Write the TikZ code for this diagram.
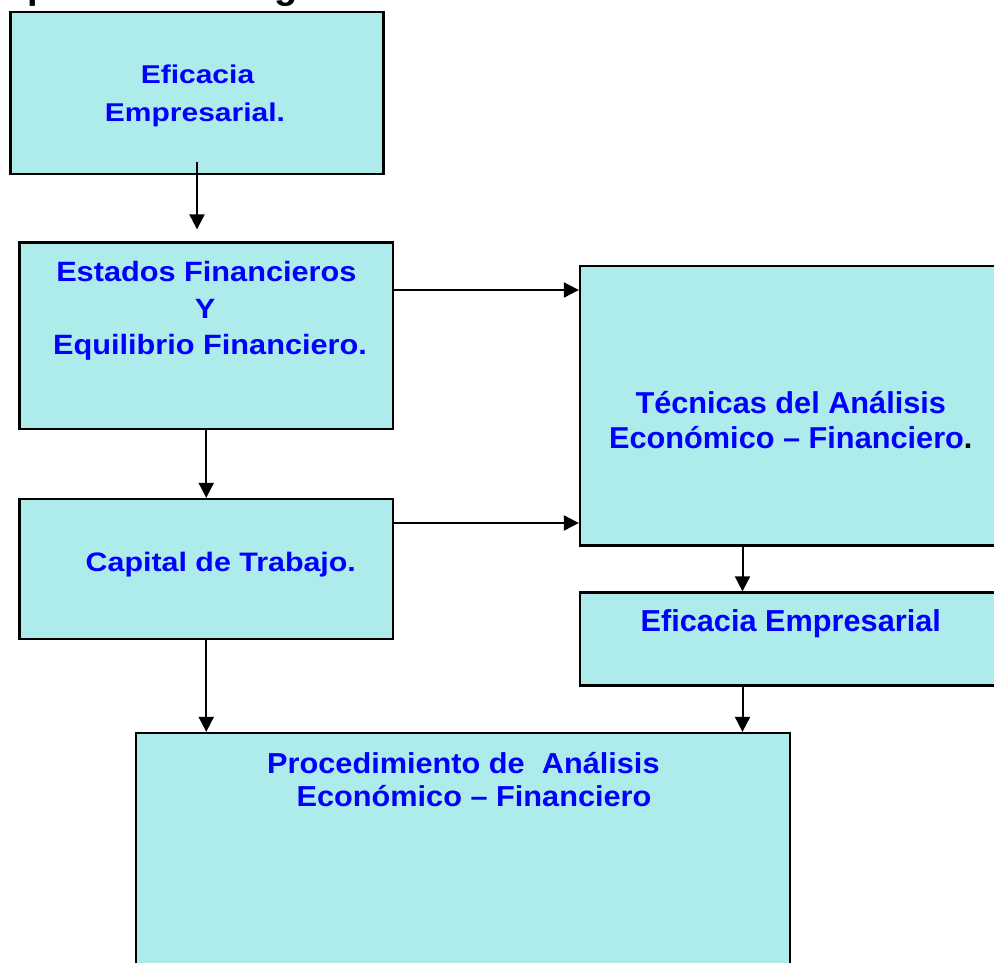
\documentclass[tikz,border=0pt]{standalone}
\usepackage{fontspec}
\setmainfont{Liberation Sans}
\usetikzlibrary{arrows.meta}
\definecolor{boxfill}{RGB}{174,235,235}
\definecolor{txtblue}{RGB}{0,0,255}
\newcommand{\hvs}[3]{\scalebox{#1}[#2]{#3}}
\tikzset{
  boxnode/.style={draw=black, line width=2.3pt, fill=boxfill, inner sep=0pt, rectangle},
  lbl/.style={anchor=base, inner sep=0pt, text=txtblue, font=\fontsize{30.7}{35}\selectfont\bfseries},
  arr/.style={draw=black, line width=2pt, -{Triangle[length=15pt,width=15pt]}}
}
\begin{document}
\begin{tikzpicture}[x=1pt,y=-1pt]
\useasboundingbox (0,0) rectangle (994,962);
\clip (0,0) rectangle (994,962);
\fill[white] (0,0) rectangle (994,962);

% title (cut off at top, as in the reference)
\node[anchor=base west, inner sep=0pt, font=\fontsize{38}{40}\selectfont\bfseries] (title) at (-21,-1.5) {Representación gráfica};

% boxes
\node[boxnode, minimum width=373pt, minimum height=162pt] (b1) at (197,93) {};
\node[boxnode, minimum width=373.5pt, minimum height=186.5pt] (b2) at (206.25,335.75) {};
\node[boxnode, minimum width=430pt, minimum height=279.5pt] (b3) at (795,405.75) {};
\node[boxnode, minimum width=373.5pt, minimum height=140pt] (b4) at (206.25,569) {};
\node[boxnode, minimum width=430pt, minimum height=93pt] (b5) at (795,639) {};
\node[boxnode, minimum width=654pt, minimum height=247pt] (b6) at (463,856.5) {};

% texts
\node[lbl] (t1a) at (197.5,83) {\hvs{0.977}{0.837}{Eficacia}};
\node[lbl] (t1b) at (195,121) {\hvs{0.977}{0.837}{Empresarial.}};
\node[lbl] (t2a) at (206.4,281.7) {\hvs{1}{0.909}{Estados Financieros}};
\node[lbl] (t2b) at (205,318.3) {\hvs{1}{0.909}{Y}};
\node[lbl] (t2c) at (210,354) {\hvs{1}{0.909}{Equilibrio Financiero.}};
\node[lbl] (t3a) at (790.8,413.3) {\hvs{1}{0.984}{Técnicas del Análisis}};
\node[lbl] (t3b) at (790.8,448.3) {\hvs{1}{0.984}{Económico – Financiero{\color{black}.}}};
\node[lbl] (t4) at (220.8,571.7) {\hvs{0.99}{0.87}{Capital de Trabajo.}};
\node[lbl] (t5) at (790.8,631.7) {\hvs{1}{0.987}{Eficacia Empresarial}};
\node[lbl] (t6a) at (463.4,773.3) {\hvs{1}{0.94}{Procedimiento de\ \ Análisis}};
\node[lbl] (t6b) at (474,806.7) {\hvs{1}{0.94}{Económico – Financiero}};

% helper coordinates
\coordinate (c1) at (197,161.5);
\coordinate (y290) at (0,290);
\coordinate (y523) at (0,523);
\coordinate (x742) at (742.5,0);

% connectors
\draw[arr, shorten >=12pt] (c1) -- (b2.north -| c1);
\draw[arr] (b2.east |- y290) -- (b3.west |- y290);
\draw[arr] (b2.south) -- (b4.north);
\draw[arr] (b4.east |- y523) -- (b3.west |- y523);
\draw[arr] (b3.south -| x742) -- (b5.north -| x742);
\draw[arr] (b5.south -| x742) -- (b6.north -| x742);
\draw[arr] (b4.south) -- (b6.north -| b4.south);
\end{tikzpicture}
\end{document}
